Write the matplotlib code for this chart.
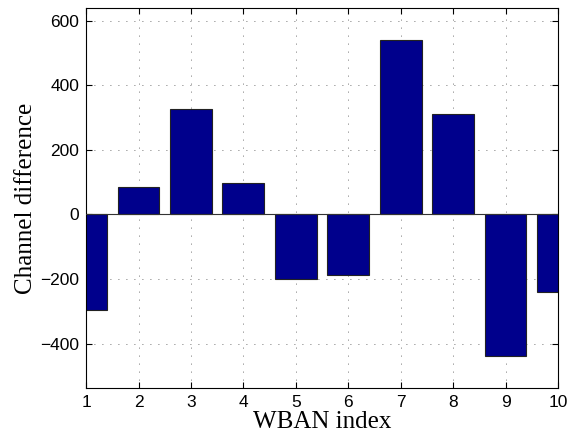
import matplotlib.pyplot as plt
import numpy as np

# WBAN channel differences
wban_index = np.arange(1, 11)
channel_diff = [-297, 85, 325, 97, -201, -187, 540, 312, -439, -239]
y_ticks = [-400, -200, 0, 200, 400, 600]

fig = plt.figure(figsize=(5.74, 4.42), dpi=100)
ax = fig.add_axes([0.150, 0.122, 0.822, 0.859])

ax.bar(wban_index, channel_diff, width=0.8, color='#00008C',
       edgecolor='#222222', linewidth=0.8, zorder=2)
ax.axhline(0, color='#333333', linewidth=0.8, zorder=3)

ax.set_xlim(1, 10)
ax.set_ylim(-538, 638)
ax.set_xticks(wban_index)
ax.set_yticks(y_ticks)
ax.set_yticklabels([str(v).replace('-', '\u2212') for v in y_ticks])

ax.grid(True, color='#444444', linestyle=(0, (1, 8.6)), linewidth=0.6, zorder=0)
ax.set_axisbelow(True)
ax.tick_params(direction='in', top=True, right=True, length=4.5,
               labelsize=12.5, width=0.8, pad=5)
for lbl in ax.get_xticklabels() + ax.get_yticklabels():
    lbl.set_family('Liberation Sans')
for s in ax.spines.values():
    s.set_linewidth(0.8)

ax.set_xlabel('WBAN index', family='Liberation Serif', fontsize=18, labelpad=1)
ax.set_ylabel('Channel difference', family='Liberation Serif', fontsize=18,
              labelpad=2)

plt.savefig('out.png')
